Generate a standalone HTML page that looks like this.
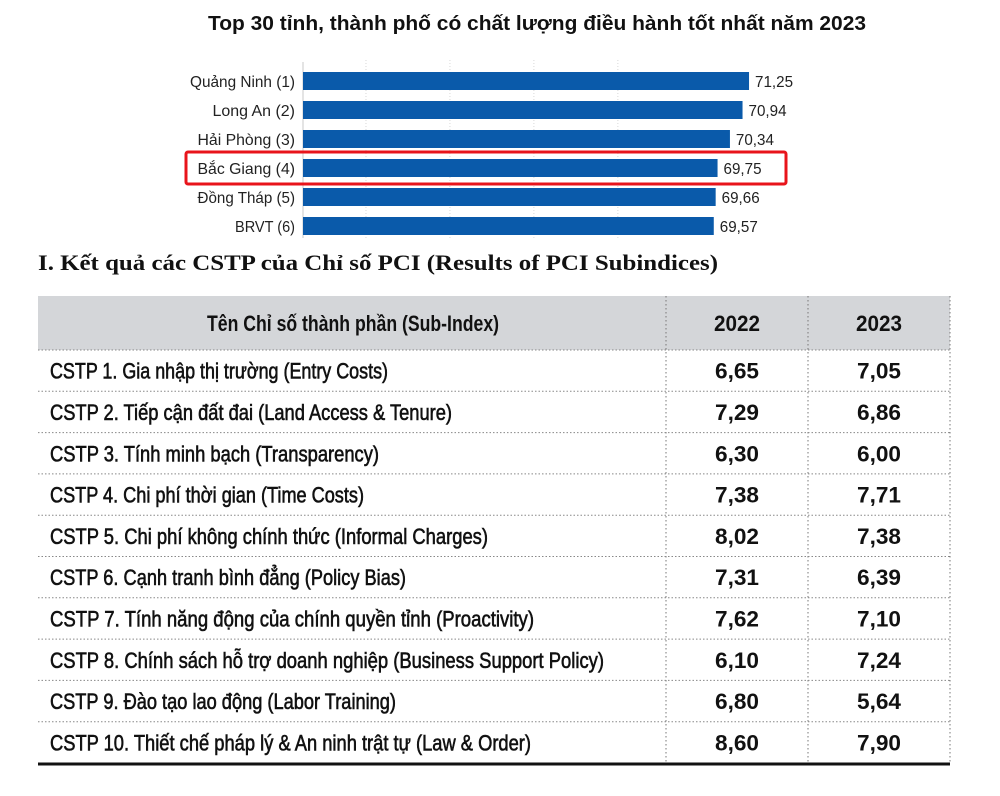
<!DOCTYPE html>
<html><head><meta charset="utf-8"><style>
html,body{margin:0;padding:0;background:#fff;}
svg{display:block;font-family:"Liberation Sans",sans-serif;}
</style></head><body>
<svg id="c" width="1000" height="796" viewBox="0 0 1000 796" xmlns="http://www.w3.org/2000/svg">
<text x="537" y="30" text-anchor="middle" font-size="20" font-weight="bold" fill="#111" textLength="658" lengthAdjust="spacingAndGlyphs">Top 30 tỉnh, thành phố có chất lượng điều hành tốt nhất năm 2023</text>
<g id="grid"></g>
<g id="bars"></g>
<rect x="186" y="152" width="600" height="32" fill="none" stroke="#e8141b" stroke-width="3" rx="2"/>
<text x="38" y="270" font-size="22" font-weight="bold" font-family="'Liberation Serif',serif" fill="#111" textLength="680" lengthAdjust="spacingAndGlyphs">I. Kết quả các CSTP của Chỉ số PCI (Results of PCI Subindices)</text>
<rect x="38" y="296" width="912" height="54" fill="#d4d6d9"/>
<g id="table"></g>
</svg>
<script>
const provinces=["Quảng Ninh (1)","Long An (2)","Hải Phòng (3)","Bắc Giang (4)","Đồng Tháp (5)","BRVT (6)"];
const scores=[71.25,70.94,70.34,69.75,69.66,69.57];
const gridTicks=[53,57,61,65];
const subIndices=["CSTP 1. Gia nhập thị trường (Entry Costs)","CSTP 2. Tiếp cận đất đai (Land Access & Tenure)","CSTP 3. Tính minh bạch (Transparency)","CSTP 4. Chi phí thời gian (Time Costs)","CSTP 5. Chi phí không chính thức (Informal Charges)","CSTP 6. Cạnh tranh bình đẳng (Policy Bias)","CSTP 7. Tính năng động của chính quyền tỉnh (Proactivity)","CSTP 8. Chính sách hỗ trợ doanh nghiệp (Business Support Policy)","CSTP 9. Đào tạo lao động (Labor Training)","CSTP 10. Thiết chế pháp lý & An ninh trật tự (Law & Order)"];
const values2022=[6.65,7.29,6.30,7.38,8.02,7.31,7.62,6.10,6.80,8.60];
const values2023=[7.05,6.86,6.00,7.71,7.38,6.39,7.10,7.24,5.64,7.90];

const NS="http://www.w3.org/2000/svg";
function mk(tag,attrs,parent,text){const e=document.createElementNS(NS,tag);for(const k in attrs)e.setAttribute(k,attrs[k]);if(text!==undefined)e.textContent=text;parent.appendChild(e);return e;}
const x0=303, xmin=50, ppu=20.99;
const xs=v=>x0+(v-xmin)*ppu;
const ys=i=>81+i*29;
const fmt=v=>v.toFixed(2).replace('.',',');
const grid=document.getElementById('grid');
gridTicks.forEach(t=>{
  const l=mk('line',{x1:xs(t),x2:xs(t),y1:60,y2:240,stroke:'#d8d8d8','stroke-dasharray':'1 2'},grid);
  
  
});
const bars=document.getElementById('bars');
mk('line',{x1:x0,x2:x0,y1:62,y2:238,stroke:'#c8c8c8'},bars);
provinces.forEach((p,i)=>{
  const y=ys(i);
  const r=mk('rect',{x:x0,y:y-9,width:xs(scores[i])-x0,height:18,fill:'#0a5aaa'},bars);
  
  
  const lb=mk('text',{x:295,y:y+6,'text-anchor':'end','font-size':16,fill:'#222',textLength:p.length*7.5,lengthAdjust:'spacingAndGlyphs'},bars,p);
  
  
  const vl=mk('text',{x:xs(scores[i])+6,y:y+6,'font-size':16,fill:'#222',textLength:38,lengthAdjust:'spacingAndGlyphs'},bars,fmt(scores[i]));
  
  
});
const tb=document.getElementById('table');
const rowTop=350, rowH=41.3;
const ends=[388,452,379,364,488,406,534,604,396,531];
const hdr=mk('text',{x:353,y:331,'text-anchor':'middle','font-size':22,'font-weight':'bold',fill:'#111',textLength:292,lengthAdjust:'spacingAndGlyphs'},tb,'Tên Chỉ số thành phần (Sub-Index)');


[['2022',737],['2023',879]].forEach(([t,x])=>{
  const h=mk('text',{x:x,y:331,'text-anchor':'middle','font-size':22,'font-weight':'bold',fill:'#111',textLength:46,lengthAdjust:'spacingAndGlyphs'},tb,t);
  
  
});
[666,808,950].forEach(x=>{mk('line',{x1:x,x2:x,y1:296,y2:762,stroke:'#777','stroke-dasharray':'1.5 2.5'},tb);});
subIndices.forEach((s,i)=>{
  const top=rowTop+i*rowH, cy=top+rowH/2;
  mk('line',{x1:38,x2:950,y1:top,y2:top,stroke:'#888','stroke-dasharray':'1.5 2'},tb);
  const t=mk('text',{x:50,y:cy+8,'font-size':22,fill:'#111',stroke:'#111','stroke-width':0.6,textLength:ends[i]-50,lengthAdjust:'spacingAndGlyphs'},tb,s);
  
  
  const a=mk('text',{x:737,y:cy+8,'text-anchor':'middle','font-size':22,'font-weight':'bold',fill:'#111',textLength:44,lengthAdjust:'spacingAndGlyphs'},tb,fmt(values2022[i]));
  
  
  const b=mk('text',{x:879,y:cy+8,'text-anchor':'middle','font-size':22,'font-weight':'bold',fill:'#111',textLength:44,lengthAdjust:'spacingAndGlyphs'},tb,fmt(values2023[i]));
  
  
});
mk('line',{x1:38,x2:950,y1:764,y2:764,stroke:'#111','stroke-width':3},tb);
</script>
</body></html>
